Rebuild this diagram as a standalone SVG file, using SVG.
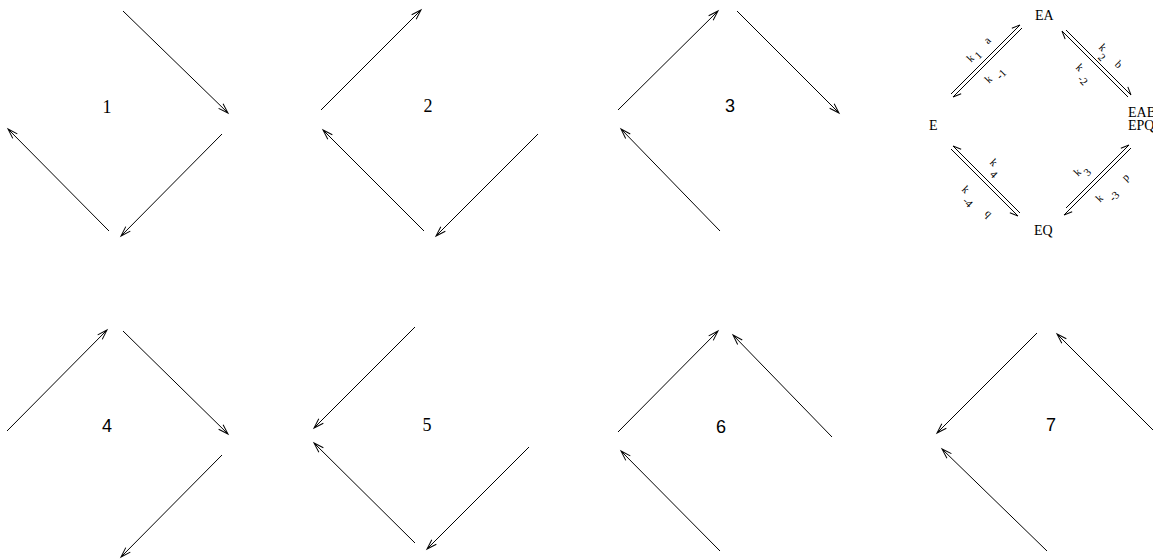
<svg xmlns="http://www.w3.org/2000/svg" width="1153" height="560" viewBox="0 0 1153 560">
<style>
.ln{stroke:#000;stroke-width:1;fill:none}
.a{marker-end:url(#ah)}
.hl{marker-end:url(#hl)}
.hr{marker-end:url(#hr)}
.ser{font-family:"Liberation Serif","Times New Roman",serif;fill:#000}
.san{font-family:"Liberation Sans",Arial,sans-serif;fill:#000}
.num{font-size:18px;text-anchor:middle}
.st{font-size:14px}
.kl{font-family:"Liberation Serif","Times New Roman",serif;font-size:11px;text-anchor:middle;dominant-baseline:central;fill:#000}
</style>
<defs>
<marker id="ah" markerUnits="userSpaceOnUse" markerWidth="14" markerHeight="10" viewBox="-12 -5 14 10" refX="0" refY="0" orient="auto" overflow="visible"><path d="M-10,-3.2 L0,0 L-10,3.2" fill="none" stroke="#000" stroke-width="1"/></marker>
<marker id="hl" markerUnits="userSpaceOnUse" markerWidth="12" markerHeight="8" viewBox="-10 -4 12 8" refX="0" refY="0" orient="auto" overflow="visible"><path d="M-8,-3.5 L0,0" fill="none" stroke="#000" stroke-width="1"/></marker>
<marker id="hr" markerUnits="userSpaceOnUse" markerWidth="12" markerHeight="8" viewBox="-10 -4 12 8" refX="0" refY="0" orient="auto" overflow="visible"><path d="M-8,3.5 L0,0" fill="none" stroke="#000" stroke-width="1"/></marker>
</defs>
<rect width="1153" height="560" fill="#fff"/>
<g id="connectors">
<g id="d1-arrows">
<line class="ln a" x1="123" y1="11" x2="228" y2="113"/>
<line class="ln a" x1="222" y1="134" x2="121" y2="236"/>
<line class="ln a" x1="109" y1="231" x2="8" y2="129"/>
</g>
<g id="d2-arrows">
<line class="ln a" x1="321" y1="110" x2="421" y2="10"/>
<line class="ln a" x1="424" y1="231" x2="323" y2="130"/>
<line class="ln a" x1="538" y1="134" x2="436" y2="236"/>
</g>
<g id="d3-arrows">
<line class="ln a" x1="618" y1="110" x2="718" y2="11"/>
<line class="ln a" x1="737" y1="11" x2="839" y2="113"/>
<line class="ln a" x1="720" y1="231" x2="621" y2="129"/>
</g>
<g id="d4-arrows">
<line class="ln a" x1="7" y1="431" x2="107" y2="330"/>
<line class="ln a" x1="123" y1="331" x2="228" y2="434"/>
<line class="ln a" x1="222" y1="455" x2="121" y2="557"/>
</g>
<g id="d5-arrows">
<line class="ln a" x1="415" y1="327" x2="314" y2="428"/>
<line class="ln a" x1="529" y1="447" x2="427" y2="549"/>
<line class="ln a" x1="415" y1="543" x2="314" y2="443"/>
</g>
<g id="d6-arrows">
<line class="ln a" x1="618" y1="432" x2="718" y2="331"/>
<line class="ln a" x1="832" y1="437" x2="733" y2="335"/>
<line class="ln a" x1="720" y1="551" x2="621" y2="451"/>
</g>
<g id="d7-arrows">
<line class="ln a" x1="1037" y1="333" x2="937" y2="433"/>
<line class="ln a" x1="1156" y1="433" x2="1057" y2="334"/>
<line class="ln a" x1="1047" y1="551" x2="942" y2="449"/>
</g>
<g id="cycle-arrows">
<line class="ln hl" x1="951" y1="94" x2="1020" y2="25"/>
<line class="ln hl" x1="1022" y1="28" x2="953" y2="97"/>
<line class="ln hl" x1="1066" y1="30" x2="1131" y2="95"/>
<line class="ln hl" x1="1128" y1="97" x2="1062" y2="31"/>
<line class="ln hl" x1="1066" y1="208" x2="1129" y2="145"/>
<line class="ln hl" x1="1131" y1="148" x2="1064" y2="215"/>
<line class="ln hr" x1="1020" y1="213" x2="953" y2="146"/>
<line class="ln hr" x1="951" y1="149" x2="1018" y2="216"/>
</g>
</g>
<g id="n1"><text class="ser num" x="107" y="113">1</text></g>
<g id="n2"><text class="ser num" x="428" y="112">2</text></g>
<g id="n3"><text class="san num" x="730" y="112">3</text></g>
<g id="n4"><text class="san num" x="107" y="432">4</text></g>
<g id="n5"><text class="ser num" x="427" y="431">5</text></g>
<g id="n6"><text class="san num" x="721" y="433">6</text></g>
<g id="n7"><text class="san num" x="1051" y="431">7</text></g>
<g id="EA"><text class="ser st" x="1035" y="20">EA</text></g>
<g id="E"><text class="ser st" x="929" y="130">E</text></g>
<g id="EAB"><text class="ser st" x="1128" y="117">EAB</text><text class="ser st" x="1128" y="130">EPQ</text></g>
<g id="EQ"><text class="ser st" x="1034" y="235">EQ</text></g>
<g id="rate-labels">
<text class="kl" transform="translate(970,58) rotate(-45)">k</text>
<text class="kl" transform="translate(978,55) rotate(-45)">1</text>
<text class="kl" transform="translate(987,40) rotate(-45)">a</text>
<text class="kl" transform="translate(988,79) rotate(-45)">k</text>
<text class="kl" transform="translate(1001,74) rotate(-45)">-1</text>
<text class="kl" transform="translate(1103,47) rotate(45)">k</text>
<text class="kl" transform="translate(1102,57) rotate(45)">2</text>
<text class="kl" transform="translate(1119,64) rotate(45)">b</text>
<text class="kl" transform="translate(1080,67) rotate(45)">k</text>
<text class="kl" transform="translate(1083,80) rotate(45)">-2</text>
<text class="kl" transform="translate(994,162) rotate(45)">k</text>
<text class="kl" transform="translate(994,174) rotate(45)">4</text>
<text class="kl" transform="translate(966,189) rotate(45)">k</text>
<text class="kl" transform="translate(968,202) rotate(45)">-4</text>
<text class="kl" transform="translate(989,213) rotate(45)">q</text>
<text class="kl" transform="translate(1077,172) rotate(-45)">k</text>
<text class="kl" transform="translate(1087,172) rotate(-45)">3</text>
<text class="kl" transform="translate(1125,177) rotate(-45)">p</text>
<text class="kl" transform="translate(1099,198) rotate(-45)">k</text>
<text class="kl" transform="translate(1114,196) rotate(-45)">-3</text>
</g>
</svg>
